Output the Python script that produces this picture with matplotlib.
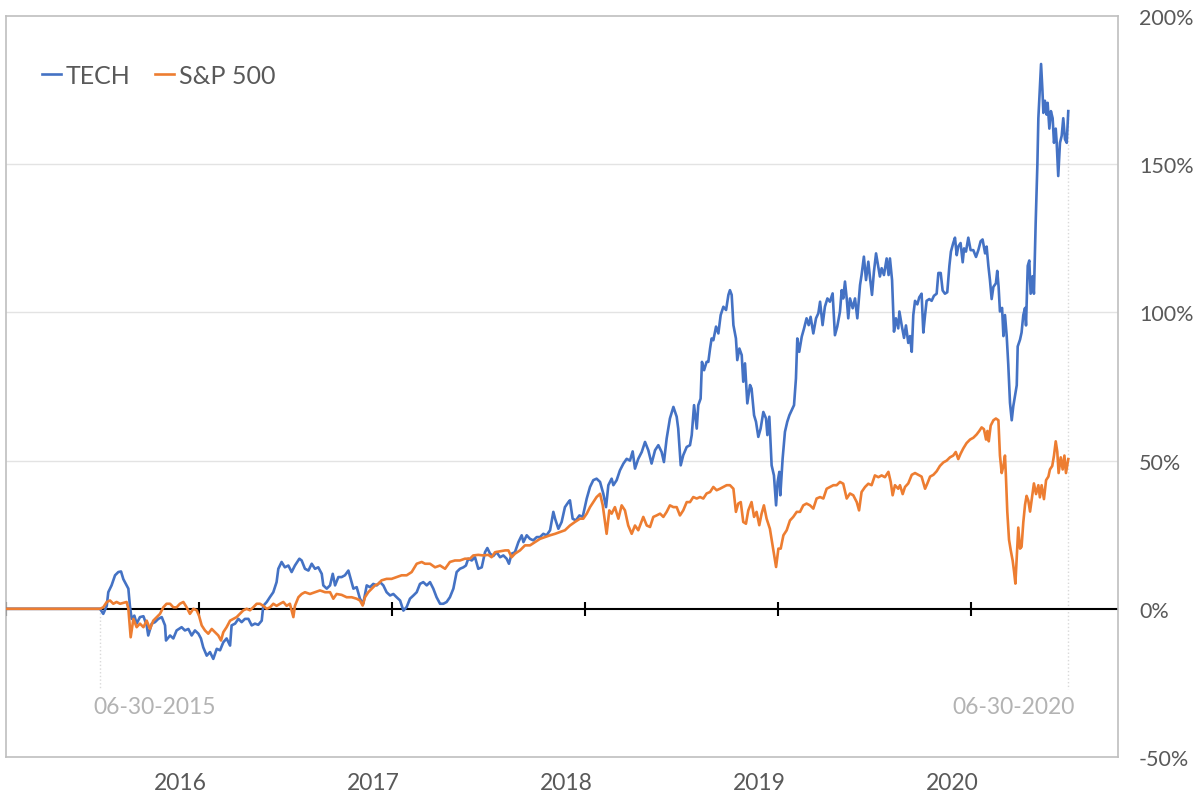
import numpy as np
import matplotlib.pyplot as plt

plt.rcParams['font.family'] = ['Lato', 'DejaVu Sans']

# cumulative return (%), time in decimal years
tech_t = [2015.0, 2015.487, 2015.504, 2015.522, 2015.530, 2015.547, 2015.565, 2015.582, 2015.596, 2015.608,
          2015.625, 2015.634, 2015.642, 2015.651, 2015.665, 2015.677, 2015.694, 2015.712, 2015.729, 2015.737,
          2015.755, 2015.772, 2015.789, 2015.807, 2015.824, 2015.829, 2015.850, 2015.867, 2015.884, 2015.910,
          2015.927, 2015.945, 2015.962, 2015.979, 2015.997, 2016.010, 2016.022, 2016.040, 2016.057, 2016.074,
          2016.092, 2016.109, 2016.126, 2016.143, 2016.161, 2016.169, 2016.187, 2016.204, 2016.221, 2016.238,
          2016.256, 2016.273, 2016.290, 2016.307, 2016.325, 2016.333, 2016.351, 2016.368, 2016.385, 2016.402,
          2016.411, 2016.428, 2016.445, 2016.463, 2016.480, 2016.497,
          2016.520, 2016.532, 2016.549, 2016.567, 2016.584, 2016.601, 2016.618, 2016.636, 2016.644, 2016.662,
          2016.679, 2016.693, 2016.705, 2016.722, 2016.739, 2016.756, 2016.774, 2016.786, 2016.800, 2016.817,
          2016.834, 2016.851, 2016.869, 2016.886, 2016.903, 2016.921, 2016.938, 2016.955, 2016.972, 2016.990,
          2017.007, 2017.024, 2017.042, 2017.059, 2017.076, 2017.093, 2017.111, 2017.128, 2017.145, 2017.162,
          2017.180, 2017.197, 2017.214, 2017.231, 2017.249, 2017.266, 2017.283, 2017.300, 2017.318, 2017.335,
          2017.352, 2017.370, 2017.383, 2017.395, 2017.413, 2017.430, 2017.447, 2017.465, 2017.482, 2017.494,
          2017.508, 2017.525, 2017.542,
          2017.560, 2017.577, 2017.594, 2017.606, 2017.620, 2017.637, 2017.655, 2017.672, 2017.681, 2017.698,
          2017.715, 2017.732, 2017.750, 2017.767, 2017.784, 2017.801, 2017.819, 2017.836, 2017.845, 2017.862,
          2017.879, 2017.896, 2017.914, 2017.922, 2017.936, 2017.953, 2017.971, 2017.988, 2018.009, 2018.026,
          2018.043, 2018.060, 2018.078, 2018.095, 2018.109, 2018.121, 2018.138, 2018.147, 2018.164, 2018.181,
          2018.199, 2018.216, 2018.233, 2018.247, 2018.259, 2018.276, 2018.294, 2018.311, 2018.328, 2018.345,
          2018.363, 2018.380, 2018.397, 2018.409, 2018.423, 2018.440, 2018.458, 2018.475, 2018.483, 2018.496,
          2018.509, 2018.527, 2018.544, 2018.553, 2018.565, 2018.579,
          2018.587, 2018.599, 2018.606, 2018.617, 2018.630, 2018.639, 2018.648, 2018.656, 2018.665, 2018.679,
          2018.691, 2018.703, 2018.717, 2018.731, 2018.743, 2018.751, 2018.760, 2018.769, 2018.782, 2018.789,
          2018.800, 2018.812, 2018.820, 2018.829, 2018.841, 2018.855, 2018.863, 2018.876, 2018.886, 2018.898,
          2018.910, 2018.924, 2018.938, 2018.945, 2018.955, 2018.967, 2018.979, 2018.990, 2018.998, 2019.007,
          2019.012, 2019.024, 2019.036, 2019.048, 2019.059, 2019.071, 2019.083, 2019.093, 2019.100, 2019.110,
          2019.123, 2019.135, 2019.148, 2019.159, 2019.169, 2019.183, 2019.197, 2019.209, 2019.218, 2019.231,
          2019.243, 2019.256, 2019.269, 2019.283, 2019.295, 2019.307, 2019.321, 2019.330, 2019.338, 2019.347,
          2019.356, 2019.364, 2019.373, 2019.387, 2019.399, 2019.411, 2019.425, 2019.433, 2019.445, 2019.456,
          2019.468, 2019.477, 2019.487, 2019.497, 2019.508, 2019.518, 2019.528, 2019.537, 2019.549, 2019.563,
          2019.573, 2019.580, 2019.591, 2019.601, 2019.611, 2019.623,
          2019.629, 2019.641, 2019.653, 2019.663, 2019.675, 2019.684, 2019.693, 2019.701, 2019.710, 2019.722,
          2019.732, 2019.744, 2019.753, 2019.762, 2019.770, 2019.784, 2019.796, 2019.808, 2019.822, 2019.831,
          2019.843, 2019.853, 2019.865, 2019.877, 2019.888, 2019.896, 2019.908, 2019.917, 2019.926, 2019.934,
          2019.946, 2019.957, 2019.964, 2019.974, 2019.986, 2019.998, 2020.012, 2020.026, 2020.038, 2020.050,
          2020.060, 2020.073, 2020.081, 2020.090, 2020.098, 2020.107, 2020.116, 2020.129, 2020.136, 2020.143,
          2020.150, 2020.161, 2020.168, 2020.176, 2020.185, 2020.193, 2020.202, 2020.211, 2020.219, 2020.228,
          2020.237, 2020.242, 2020.254, 2020.262, 2020.271, 2020.280, 2020.285, 2020.294, 2020.302, 2020.309,
          2020.319, 2020.326, 2020.335, 2020.344, 2020.349, 2020.357, 2020.363, 2020.370, 2020.375, 2020.383,
          2020.392, 2020.397, 2020.406, 2020.414, 2020.423, 2020.430, 2020.439, 2020.444, 2020.452, 2020.461,
          2020.470, 2020.478, 2020.487, 2020.496, 2020.504]
tech_v = [0, 0, -1.7, 1, 5.6, 7.9, 11.3, 12.4, 12.6, 10,
          7.9, 6.8, 1, -3.4, -2.3, -5, -2.8, -2.5, -5.6, -9,
          -5, -4.5, -3.4, -2.8, -5.6, -10.7, -9, -10, -7.3, -6.2,
          -7.3, -6.8, -9, -7.3, -8.4, -10, -13, -15.8, -14.6, -16.9,
          -13.5, -14, -11.3, -10, -12.4, -5.6, -5, -3.4, -4.5, -3.4,
          -3.4, -5.6, -5, -5.4, -4, 1, 2.3, 4, 5.6, 9,
          13.5, 15.8, 14, 14.6, 12.4, 14.6,
          16.9, 16.3, 13.5, 12.9, 15.2, 13.5, 14, 11.8, 7.9, 6.8,
          7.9, 11.8, 7.9, 10.7, 10.7, 11.3, 12.9, 10.1, 6.8, 7.3,
          3.4, 1.7, 7.9, 7.3, 8.4, 7.9, 9, 7.9, 5.6, 4.5,
          5, 3.9, 2.8, -0.6, 0.6, 3.4, 4.5, 5.6, 8.4, 9,
          7.9, 9, 6.8, 3.9, 1.7, 1.7, 2.3, 3.9, 6.8, 12.4,
          13.5, 14, 14.6, 16.9, 16.3, 17.4, 13.5, 14, 19.1, 20.5,
          18.6, 17.8, 19.1,
          17.4, 18, 16.9, 15.2, 18.6, 19.1, 22.5, 24.8, 22.5, 24.8,
          23.6, 23.1, 24.2, 24.2, 25.3, 24.8, 26.5, 32.7, 30.4, 27,
          29.3, 34.3, 36, 36.6, 30.4, 29.8, 31.5, 31, 37.2, 41.1,
          43.4, 43.9, 42.8, 38.8, 34.3, 41.7, 43.9, 41.7, 43.4, 46.7,
          49, 50.6, 50, 53.1, 47.3, 50.6, 52.9, 56.3, 53.5, 49,
          53.5, 55.2, 52.9, 49.5, 57.4, 64.2, 68.1, 64.8, 60.8, 48.4,
          51.8, 54.6, 55.2, 58.6, 68.7, 60.8,
          68.7, 70.9, 83.3, 80.5, 83.3, 83.3, 87.8, 91.2, 90.6, 95.2,
          92.9, 99.1, 101.9, 100.8, 105.9, 107.5, 105.9, 95.7, 91.2, 83.9,
          87.8, 85.6, 76.6, 82.8, 69.3, 75.5, 74.3, 65.3, 63.1, 58,
          60.8, 66.4, 64.2, 58.6, 64.8, 48.4, 45, 34.9, 42.8, 46.2,
          38.3, 50.7, 59.7, 63.1, 65.3, 67, 68.7, 77.7, 91.2, 86.7,
          91.8, 94.6, 98, 95.7, 98.5, 92.9, 98, 99.7, 103.6, 95.7,
          101.9, 104.7, 103.6, 106.4, 92.3, 95.2, 100.2, 107.5, 104.7, 110.4,
          104.7, 98, 104.7, 101.4, 104.7, 98, 109.2, 112.6, 118.8, 110.9,
          117.1, 111.5, 105.9, 113.7, 119.9, 116, 112.1, 114.9, 112.6, 118.2,
          112.6, 118.2, 110.9, 93.5, 98, 94.6,
          100.3, 95.6, 91.4, 95.6, 89.7, 92, 86.7, 99.1, 103.9, 102.7,
          105.1, 106.3, 93.2, 99.1, 103.9, 104.5, 103.9, 105.6, 106.3, 113.3,
          113.3, 107.4, 106.3, 106.8, 115.7, 120.5, 123.4, 125.2, 119.3, 122.2,
          123.4, 116.9, 121.6, 120.5, 125.2, 121, 121, 118.7, 121, 124,
          124.6, 119.9, 122.2, 115.7, 111, 104.5, 108.6, 109.8, 114, 108.6,
          100.3, 101.5, 92, 99.1, 92, 82.5, 69.5, 63.6, 68.3, 71.9,
          75.4, 88.5, 90.8, 93.2, 99.1, 101.5, 95.6, 115.7, 117.5, 106.3,
          112.2, 106.3, 130, 150.1, 165.5, 176.1, 183.8, 175, 167.3, 171.4,
          166.7, 170.7, 162, 167.9, 165.5, 157.2, 162, 157.2, 146, 157.2,
          159.6, 165.5, 158.4, 157.2, 167.9]

spx_t = [2015.0, 2015.487, 2015.504, 2015.522, 2015.539, 2015.556, 2015.573, 2015.591, 2015.608, 2015.625,
         2015.634, 2015.646, 2015.660, 2015.677, 2015.694, 2015.712, 2015.729, 2015.746, 2015.763, 2015.781,
         2015.798, 2015.815, 2015.832, 2015.850, 2015.867, 2015.884, 2015.901, 2015.919, 2015.936, 2015.953,
         2015.971, 2015.988, 2016.000, 2016.014, 2016.031, 2016.048, 2016.066, 2016.083, 2016.100, 2016.114,
         2016.126, 2016.143, 2016.161, 2016.178, 2016.195, 2016.212, 2016.230, 2016.247, 2016.264, 2016.281,
         2016.299, 2016.316, 2016.333, 2016.351, 2016.368, 2016.385, 2016.402, 2016.420, 2016.437, 2016.454,
         2016.471, 2016.489, 2016.497,
         2016.515, 2016.532, 2016.549, 2016.575, 2016.601, 2016.627, 2016.653, 2016.679, 2016.696, 2016.713,
         2016.739, 2016.765, 2016.791, 2016.817, 2016.834, 2016.848, 2016.860, 2016.877, 2016.895, 2016.912,
         2016.929, 2016.946, 2016.972, 2016.998, 2017.024, 2017.050, 2017.076, 2017.102, 2017.128, 2017.154,
         2017.171, 2017.197, 2017.223, 2017.249, 2017.275, 2017.300, 2017.326, 2017.352, 2017.378, 2017.404,
         2017.421, 2017.447, 2017.473, 2017.499, 2017.516, 2017.534,
         2017.586, 2017.603, 2017.620, 2017.637, 2017.663, 2017.689, 2017.715, 2017.741, 2017.767, 2017.793,
         2017.819, 2017.845, 2017.870, 2017.896, 2017.922, 2017.948, 2017.974, 2017.991, 2018.009, 2018.026,
         2018.043, 2018.060, 2018.078, 2018.092, 2018.104, 2018.112, 2018.126, 2018.138, 2018.155, 2018.173,
         2018.190, 2018.207, 2018.224, 2018.242, 2018.259, 2018.276, 2018.302, 2018.320, 2018.337, 2018.354,
         2018.371, 2018.389, 2018.406, 2018.423, 2018.440, 2018.458, 2018.475, 2018.492, 2018.509, 2018.527,
         2018.544, 2018.561, 2018.579,
         2018.596, 2018.613, 2018.630, 2018.648, 2018.665, 2018.682, 2018.699, 2018.717, 2018.734, 2018.751,
         2018.769, 2018.782, 2018.794, 2018.807, 2018.820, 2018.834, 2018.846, 2018.863, 2018.876, 2018.889,
         2018.903, 2018.915, 2018.927, 2018.941, 2018.958, 2018.972, 2018.990, 2019.002, 2019.014, 2019.028,
         2019.045, 2019.062, 2019.079, 2019.097, 2019.114, 2019.131, 2019.148, 2019.166, 2019.183, 2019.200,
         2019.218, 2019.235, 2019.252, 2019.269, 2019.287, 2019.304, 2019.321, 2019.338, 2019.356, 2019.373,
         2019.390, 2019.408, 2019.420, 2019.433, 2019.451, 2019.468, 2019.485, 2019.502, 2019.520, 2019.537,
         2019.554, 2019.572, 2019.584, 2019.594, 2019.606, 2019.623,
         2019.632, 2019.646, 2019.658, 2019.675, 2019.693, 2019.710, 2019.727, 2019.744, 2019.762, 2019.774,
         2019.788, 2019.805, 2019.822, 2019.839, 2019.857, 2019.874, 2019.891, 2019.908, 2019.921, 2019.934,
         2019.946, 2019.960, 2019.977, 2019.995, 2020.012, 2020.029, 2020.043, 2020.055, 2020.067, 2020.078,
         2020.085, 2020.092, 2020.102, 2020.116, 2020.129, 2020.142, 2020.150, 2020.159, 2020.168, 2020.176,
         2020.181, 2020.188, 2020.197, 2020.206, 2020.216, 2020.223, 2020.230, 2020.237, 2020.245, 2020.254,
         2020.262, 2020.271, 2020.280, 2020.288, 2020.297, 2020.306, 2020.314, 2020.326, 2020.337, 2020.349,
         2020.357, 2020.366, 2020.378, 2020.389, 2020.401, 2020.409, 2020.421, 2020.430, 2020.439, 2020.447,
         2020.454, 2020.465, 2020.475, 2020.484, 2020.492, 2020.504]
spx_v = [0, 0, 0.5, 2.3, 2.8, 1.7, 2.3, 1.7, 2, 2.3,
         0, -9.6, -3.4, -6.2, -5, -6.2, -4, -6.8, -4, -2.8,
         -1.7, 0.5, 1.7, 1.7, 0.5, 0.5, 1.7, 2.3, 0.5, -1.7,
         0, -0.5, -2.3, -5.6, -7.3, -8.4, -6.8, -7.9, -9, -10.7,
         -7.9, -6.2, -4, -3.4, -2.8, -1.7, -0.5, 0, -0.5, 0.5,
         1.7, 1.7, 1, 0, 0.5, 1.7, 1, 1.7, 2.3, 1,
         1.7, -2.8, 1,
         3.9, 5, 5.6, 5, 5.6, 6.2, 5.6, 5.6, 3.4, 5,
         4.7, 3.9, 3.9, 3.4, 2.8, 1.1, 3.9, 5.6, 6.8, 7.9,
         8.4, 9.6, 10.1, 10.1, 10.7, 11.3, 11.3, 12.4, 15.2, 15.8,
         15.2, 15.2, 14, 14.6, 13.5, 15.8, 16.3, 16.3, 16.9, 16.9,
         18, 18.2, 18, 18.2, 17.4, 19.1,
         19.7, 19.7, 17.4, 18.6, 19.7, 21.4, 21.4, 22.5, 23.6, 24.2,
         24.8, 25.3, 25.9, 26.5, 28.1, 29.3, 30.4, 30.4, 32.1, 34.3,
         36, 37.7, 38.8, 34.9, 29.3, 25.3, 33.2, 32.1, 34.3, 30.4,
         34.9, 33.2, 28.1, 25.3, 28.1, 26.5, 31, 28.1, 27.6, 31,
         31.5, 32.1, 31, 32.7, 34.9, 34.3, 34.3, 31.5, 33.2, 36,
         36, 37.7, 37.2,
         37.7, 37.2, 38.9, 39.4, 41.1, 40, 40.5, 41.1, 41.7, 41.7,
         40.5, 32.7, 35.5, 36, 29.3, 28.7, 33.2, 36, 31, 32.7,
         28.2, 32.1, 34.9, 30.4, 27, 21.4, 14.1, 20.3, 20.3, 24.8,
         26.5, 29.8, 31, 32.7, 32.7, 34.9, 35.5, 34.9, 33.8, 37.2,
         37.7, 37.2, 40.5, 41.1, 41.7, 41.7, 42.8, 42.2, 37.2, 38.9,
         38.3, 36, 33.2, 39.4, 41.1, 42.2, 41.7, 45, 44.4, 45,
         44.4, 46.2, 42.8, 38.3, 41.7, 40.5,
         41.7, 38.7, 41.1, 42.3, 45.2, 45.8, 45.2, 44.6, 40.5, 42.3,
         44.6, 45.2, 46.4, 48.2, 49.4, 50, 51.1, 51.7, 52.9, 50.5,
         52.3, 54.1, 55.9, 57.1, 57.7, 58.8, 60, 61.2, 60.6, 57.1,
         60, 56.5, 61.8, 63.6, 64.2, 63.6, 51.7, 45.8, 48.2, 51.7,
         44.6, 32.8, 23.3, 19.7, 16.2, 12.6, 8.5, 17.4, 27.4, 20.3,
         20.9, 29.2, 35.1, 38.1, 36.5, 32.8, 36.5, 42.3, 38.7, 41.7,
         37.6, 41.7, 37, 43.4, 44.6, 47, 48.2, 51.7, 56.5, 53,
         45.8, 51.1, 47, 51.7, 45.8, 50.5]

year_ticks = [2015, 2016, 2017, 2018, 2019, 2020]
year_labels = ['2016', '2017', '2018', '2019', '2020']
y_ticks = [-50, 0, 50, 100, 150, 200]

blue = '#4472C4'
orange = '#ED7D31'
grey_txt = '#595959'

fig = plt.figure(figsize=(11.99, 8.04), dpi=100)
ax = fig.add_axes([0.005, 0.0572, 0.9275, 0.9217])

ax.set_xlim(2015.0, 2020.762)
ax.set_ylim(-50, 200)

# grid + zero axis with year ticks
for g in [50, 100, 150]:
    ax.axhline(g, color='#e3e3e3', lw=1, zorder=1)
ax.axhline(0, color='black', lw=1.5, zorder=2)
ax.vlines(year_ticks, -2.4, 2.4, color='black', lw=1.5, zorder=2)

# drop lines to start / end date labels
ax.plot([tech_t[1], tech_t[1]], [0, -27], color='#d9d9d9', lw=1, ls=':', zorder=1)
ax.plot([tech_t[-1], tech_t[-1]], [tech_v[-1], -27], color='#d9d9d9', lw=1, ls=':', zorder=1)
ax.text(2015.451, -33, '06-30-2015', color='#b3b3b3', fontsize=16.5, ha='left', va='center')
ax.text(2020.539, -33, '06-30-2020', color='#b3b3b3', fontsize=16.5, ha='right', va='center')

ax.plot(tech_t, tech_v, color=blue, lw=1.9, zorder=3, label='TECH')
ax.plot(spx_t, spx_v, color=orange, lw=1.9, zorder=4, label='S&P 500')

for s in ax.spines.values():
    s.set_color('#bfbfbf')
    s.set_linewidth(1.2)

ax.yaxis.tick_right()
ax.set_yticks(y_ticks)
ax.set_yticklabels([f'{v}%' for v in y_ticks])
ax.tick_params(axis='y', length=0, pad=15, labelsize=15.5, labelcolor=grey_txt)

ax.set_xticks([y - 0.098 for y in year_ticks[1:]])
ax.set_xticklabels(year_labels)
ax.tick_params(axis='x', length=0, pad=11, labelsize=16.5, labelcolor=grey_txt)

leg = ax.legend(loc='upper left', bbox_to_anchor=(0.012, 0.966), ncol=2, frameon=False,
                fontsize=18, handlelength=0.75, handletextpad=0.2, columnspacing=1.0)
for t in leg.get_texts():
    t.set_color(grey_txt)

fig.savefig('out.png', dpi=100)
